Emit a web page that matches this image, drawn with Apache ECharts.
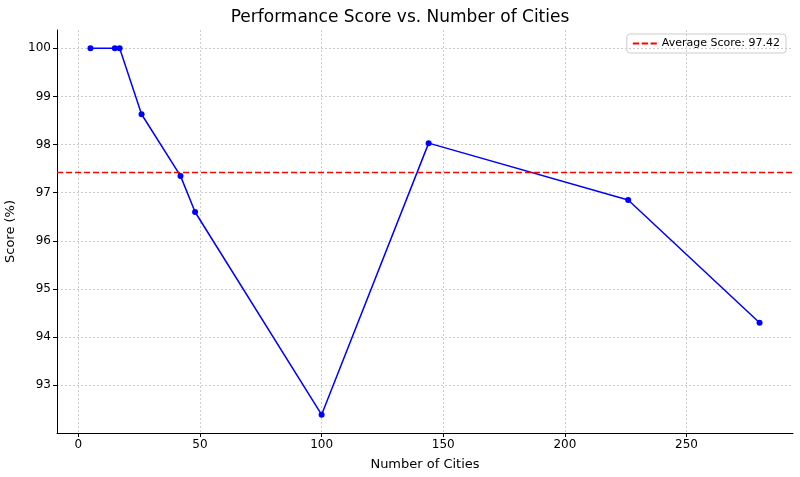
<!DOCTYPE html>
<html>
<head>
<meta charset="utf-8">
<script src="https://cdn.jsdelivr.net/npm/echarts@6/dist/echarts.min.js"></script>
<style>html,body{margin:0;padding:0;background:#fff}#main{width:800px;height:477px}</style>
</head>
<body>
<div id="main"></div>
<script>
var cities = [5, 15, 17, 26, 42, 48, 100, 144, 226, 280];
var scores = [100, 100, 100, 98.63, 97.35, 96.6, 92.39, 98.03, 96.85, 94.3];
var avgScore = 97.42;
var xTicks = [0, 50, 100, 150, 200, 250];
var yTicks = [93, 94, 95, 96, 97, 98, 99, 100];

(function () {
  var myChart = echarts.init(document.getElementById('main'));
  var xMin = -8.75, xMax = 293.75;
  var font = 'DejaVu Sans';
  var option = {
    animation: false,
    textStyle: { fontFamily: font },
    title: {
      text: 'Performance Score vs. Number of Cities',
      left: 'center', top: 4,
      textStyle: { fontSize: 17, fontWeight: 'normal', color: '#000', fontFamily: font }
    },
    legend: {
      data: [{
        name: 'Average Score: ' + avgScore,
        icon: 'path://M0,0H7V2H0Z M10,0H17V2H10Z M20,0H27V2H20Z'
      }],
      right: 14, top: 34,
      itemWidth: 24, itemHeight: 2,
      textStyle: { fontSize: 11, color: '#000' },
      borderColor: '#ccc', borderWidth: 1, borderRadius: 3, padding: [4, 6]
    },
    grid: { left: 57, right: 7, top: 30, bottom: 44, outerBoundsMode: 'none', containLabel: false },
    xAxis: {
      type: 'value', min: xMin, max: xMax,
      name: 'Number of Cities', nameLocation: 'middle', nameGap: 25,
      nameTextStyle: { fontSize: 13, color: '#000' },
      axisLine: { onZero: false, lineStyle: { color: '#000', width: 1 } },
      axisTick: { show: true, customValues: xTicks, length: 4, lineStyle: { color: '#000' } },
      axisLabel: { customValues: xTicks, fontSize: 12, color: '#000', margin: 6 },
      splitLine: { show: true, lineStyle: { color: '#ccc', type: [2, 2] } }
    },
    yAxis: {
      type: 'value', min: 92.01, max: 100.38,
      name: 'Score (%)', nameLocation: 'middle', nameGap: 38,
      nameTextStyle: { fontSize: 13, color: '#000' },
      axisLine: { show: true, onZero: false, lineStyle: { color: '#000', width: 1 } },
      axisTick: { show: true, customValues: yTicks, length: 4, lineStyle: { color: '#000' } },
      axisLabel: { customValues: yTicks, fontSize: 12, color: '#000', margin: 6 },
      splitLine: { show: true, lineStyle: { color: '#ccc', type: [2, 2] } }
    },
    series: [{
      name: 'Score',
      type: 'line',
      data: cities.map(function (c, i) { return [c, scores[i]]; }),
      symbol: 'circle', symbolSize: 6,
      itemStyle: { color: '#0000ff' },
      lineStyle: { color: '#0000ff', width: 1.5 }
    }, {
      name: 'Average Score: ' + avgScore,
      type: 'line',
      data: [[xMin, avgScore], [xMax, avgScore]],
      symbol: 'none',
      itemStyle: { color: '#ff0000' },
      lineStyle: { color: '#ff0000', width: 1.5, type: [6, 3] }
    }]
  };
  myChart.setOption(option);
})();
</script>
</body>
</html>
